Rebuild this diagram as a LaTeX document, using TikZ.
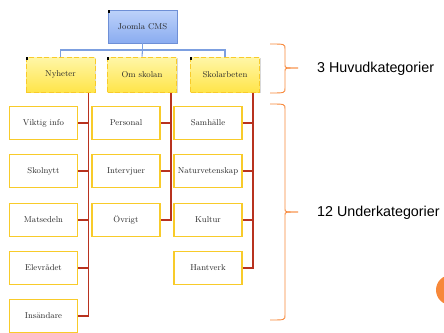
\documentclass[tikz,border=0pt]{standalone}
\usepackage{fontspec}
\newfontfamily\labelfont{Liberation Sans}
\usetikzlibrary{shadows,calc}
\definecolor{cmsA}{HTML}{BDD2FA}
\definecolor{cmsB}{HTML}{8AACF0}
\definecolor{cmsLine}{HTML}{6E8FD6}
\definecolor{catA}{HTML}{FFF6A8}
\definecolor{catB}{HTML}{FFE54A}
\definecolor{gold}{HTML}{F8CB2A}
\definecolor{blueLine}{HTML}{7C9FE0}
\definecolor{redLine}{HTML}{B8321F}
\definecolor{orangeC}{HTML}{F7883A}
\definecolor{txt}{HTML}{2A2A2A}
\begin{document}
\begin{tikzpicture}[x=1pt,y=-1pt,
  base/.style={rectangle,inner sep=0pt,text=txt,font=\fontsize{8.5}{10}\selectfont},
  cmsbox/.style={base,minimum width=69pt,minimum height=33pt,top color=cmsA,bottom color=cmsB,draw=cmsLine,line width=0.8pt,
    drop shadow={shadow xshift=1pt,shadow yshift=-1pt,opacity=0.35}},
  catbox/.style={base,minimum width=69pt,minimum height=35pt,top color=catA,bottom color=catB,draw=gold,dash pattern=on 5pt off 2.5pt,line width=1pt,
    drop shadow={shadow xshift=1pt,shadow yshift=-1pt,opacity=0.3}},
  subbox/.style={base,minimum width=68pt,minimum height=33pt,fill=white,draw=gold,line width=1.6pt},
  corner/.style={fill=black,draw=none},
  blueconn/.style={draw=blueLine,line width=1.1pt},
  redconn/.style={draw=redLine,line width=1.4pt},
  brace/.style={draw=orangeC,line width=0.9pt},
  sidelabel/.style={anchor=west,inner sep=0pt,font=\labelfont\fontsize{14.3}{16}\selectfont,text=black}
]
\useasboundingbox (0,0) rectangle (444,332);

% orange circle at right edge
\fill[orangeC] (451,290) circle (15);

% top level
\node[cmsbox] (cms) at (142.5,26.5) {Joomla CMS};
\fill[corner] (cms.north west) rectangle ++(2,3);

% categories
\node[catbox] (nyh) at (60.5,74.5) {Nyheter};
\node[catbox] (oms) at (142,74.5) {Om skolan};
\node[catbox] (ska) at (225,74.5) {Skolarbeten};
\foreach \n in {nyh,oms,ska} \fill[corner] (\n.north west) rectangle ++(2,3);

\coordinate (bar) at (142.5,50);
\draw[blueconn] (cms.south) -- (cms.south |- bar);
\draw[blueconn] (cms.south |- bar) -| (nyh.north);
\draw[blueconn] (cms.south |- bar) -| (ska.north);
\draw[blueconn] (cms.south |- bar) -- (oms.north);

% subcategories
\node[subbox] (n1) at (43.5,123) {Viktig info};
\node[subbox] (n2) at (43.5,171) {Skolnytt};
\node[subbox] (n3) at (43.5,220) {Matsedeln};
\node[subbox] (n4) at (43.5,268) {Elevrådet};
\node[subbox] (n5) at (43.5,316) {Insändare};

\node[subbox] (o1) at (126,123) {Personal};
\node[subbox] (o2) at (126,171) {Intervjuer};
\node[subbox] (o3) at (126,220) {Övrigt};

\node[subbox] (s1) at (208,123) {Samhälle};
\node[subbox] (s2) at (208,171) {Naturvetenskap};
\node[subbox] (s3) at (208,220) {Kultur};
\node[subbox] (s4) at (208,268) {Hantverk};

\coordinate (nyhd) at ($(nyh.south east)+(-7,0)$);
\coordinate (omsd) at ($(oms.south east)+(-6,0)$);
\coordinate (skad) at ($(ska.south east)+(-7,0)$);

\foreach \s in {n1,n2,n3,n4,n5} \draw[redconn] (\s.east) -| (nyhd);
\foreach \s in {o1,o2,o3} \draw[redconn] (\s.east) -| (omsd);
\foreach \s in {s1,s2,s3,s4} \draw[redconn] (\s.east) -| (skad);

% braces
\coordinate (b1t) at (270,44);
\coordinate (b1b) at (270,93);
\coordinate (b1m) at (298,68);
\draw[brace] (b1t) .. controls (285,44) .. (285,49) -- (285,65) .. controls (285,68) .. (b1m);
\draw[brace] (b1m) .. controls (285,68) .. (285,71) -- (285,88) .. controls (285,93) .. (b1b);
\node[sidelabel] (lab1) at (317,69) {3 Huvudkategorier};

\coordinate (b2t) at (270,104);
\coordinate (b2b) at (270,320);
\coordinate (b2m) at (298,212);
\draw[brace] (b2t) .. controls (285,104) .. (285,109) -- (285,209) .. controls (285,212) .. (b2m);
\draw[brace] (b2m) .. controls (285,212) .. (285,215) -- (285,315) .. controls (285,320) .. (b2b);
\node[sidelabel] (lab2) at (317,213) {12 Underkategorier};
\end{tikzpicture}
\end{document}
